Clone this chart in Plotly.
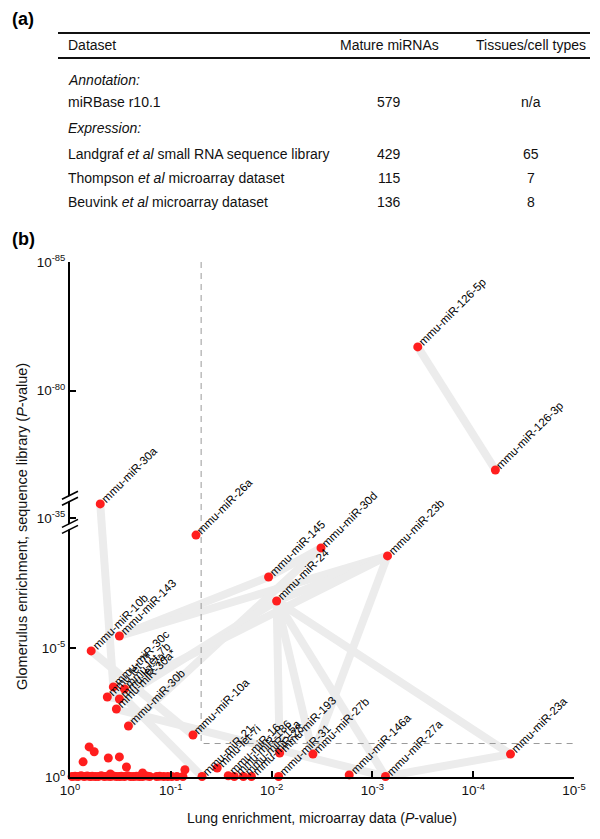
import plotly.graph_objects as go
import numpy as np

W, H = 600, 839
FONT = "Liberation Sans, Arial, Helvetica, sans-serif"

# ---------------- Panel (a): table ----------------
table_header = ["Dataset", "Mature miRNAs", "Tissues/cell types"]
annotation_rows = [["miRBase r10.1", "579", "n/a"]]
expression_rows = [
    ["Landgraf <i>et al</i> small RNA sequence library", "429", "65"],
    ["Thompson <i>et al</i> microarray dataset", "115", "7"],
    ["Beuvink <i>et al</i> microarray dataset", "136", "8"],
]

# ---------------- Panel (b): data (-log10 P) ----------------
mirna_names = [
    "mmu-miR-126-5p", "mmu-miR-126-3p", "mmu-miR-30a", "mmu-miR-26a",
    "mmu-miR-145", "mmu-miR-30d", "mmu-miR-23b", "mmu-miR-24",
    "mmu-miR-10b", "mmu-miR-143", "mmu-miR-30c", "mmu-let-7f",
    "mmu-let-7b", "mmu-let-7a", "mmu-miR-30a*", "mmu-miR-30b",
    "mmu-miR-10a", "mmu-miR-21", "mmu-let-7i", "mmu-miR-16",
    "mmu-miR-186", "mmu-miR-15a", "mmu-miR-28", "mmu-miR-193",
    "mmu-miR-31", "mmu-miR-27b", "mmu-miR-146a", "mmu-miR-27a",
    "mmu-miR-23a",
]
lung_mlog10p = [
    3.45, 4.22, 0.30, 1.25,
    1.97, 2.49, 3.15, 2.05,
    0.21, 0.49, 0.43, 0.37,
    0.54, 0.49, 0.46, 0.58,
    1.22, 1.31, 1.46, 1.57,
    1.63, 1.72, 1.80, 2.08,
    2.07, 2.41, 2.77, 3.13,
    4.37,
]
glom_mlog10p = [
    81.70, 76.92, 35.56, 9.40,
    7.77, 8.90, 8.59, 6.84,
    4.90, 5.48, 3.50, 3.11,
    3.42, 3.03, 2.64, 1.98,
    1.63, 0.02, 0.35, 0.05,
    0.02, 0.02, 0.02, 0.93,
    0.02, 0.89, 0.08, 0.02,
    0.89,
]

# unlabelled miRNAs
other_lung_mlog10p = [
    0.02, 0.05, 0.08, 0.11, 0.14, 0.17, 0.20, 0.22, 0.25, 0.28, 0.31, 0.34,
    0.37, 0.40, 0.43, 0.46, 0.49, 0.51, 0.54, 0.57, 0.60, 0.63, 0.66, 0.69,
    0.72, 0.76, 0.79, 0.86, 0.89, 0.93, 0.97, 1.01, 1.06, 1.12,
    0.19, 0.24, 0.13, 0.38, 0.49, 0.56, 0.40, 0.72, 1.14,
]
other_glom_mlog10p = [
    0.02, 0.03, 0.02, 0.05, 0.02, 0.04, 0.02, 0.03, 0.02, 0.02, 0.05, 0.02,
    0.03, 0.02, 0.04, 0.02, 0.02, 0.03, 0.02, 0.05, 0.02, 0.02, 0.03, 0.02,
    0.02, 0.04, 0.02, 0.02, 0.03, 0.02, 0.02, 0.02, 0.02, 0.02,
    1.17, 0.98, 0.59, 0.74, 0.78, 0.39, 0.12, 0.16, 0.28,
]

# links between related (co-clustered) miRNAs
links = [
    ("mmu-miR-126-5p", "mmu-miR-126-3p"),
    ("mmu-miR-30a", "mmu-miR-30c"),
    ("mmu-miR-143", "mmu-miR-145"),
    ("mmu-miR-143", "mmu-miR-23b"),
    ("mmu-miR-24", "mmu-miR-23a"),
    ("mmu-miR-24", "mmu-miR-27a"),
    ("mmu-miR-24", "mmu-miR-27b"),
    ("mmu-miR-24", "mmu-miR-193"),
    ("mmu-miR-23b", "mmu-miR-27b"),
    ("mmu-miR-23b", "mmu-miR-24"),
    ("mmu-miR-23a", "mmu-miR-27a"),
    ("mmu-miR-30d", "mmu-miR-30b"),
    ("mmu-miR-30d", "mmu-miR-145"),
    ("mmu-let-7a", "mmu-miR-24"),
    ("mmu-let-7f", "mmu-miR-23b"),
    ("mmu-miR-10b", "mmu-miR-10a"),
    ("mmu-miR-30a*", "mmu-miR-27a"),
    ("mmu-miR-30c", "mmu-miR-21"),
    ("mmu-let-7a", "mmu-let-7f"),
    ("mmu-miR-15a", "mmu-miR-16"),
]

alpha = 0.05  # significance threshold (dashed lines)

# y-axis break segments, in -log10 P
y_segments = [(0.0, 9.7), (34.65, 35.74), (75.78, 85.0)]


def ybreak(v):
    off = 0.0
    for lo, hi in y_segments:
        if v <= hi:
            return off + max(v - lo, 0.0)
        off += hi - lo
    return off


y_top = ybreak(y_segments[-1][1])
y_tick_vals = [0, 5, 35, 80, 85]
x_tick_exps = [0, 1, 2, 3, 4, 5]

# plot area in pixels
PX0, PX1, PY0, PY1 = 70, 574, 262, 777


def px(x):
    return x / W


def py(y):
    return 1 - y / H


fig = go.Figure()

# links
pos = {n: (lx, gy) for n, lx, gy in zip(mirna_names, lung_mlog10p, glom_mlog10p)}
lx, ly = [], []
for a, b in links:
    for n in (a, b):
        lx.append(10 ** (-pos[n][0]))
        ly.append(ybreak(pos[n][1]))
    lx.append(None)
    ly.append(None)
fig.add_trace(go.Scatter(x=lx, y=ly, mode="lines",
                         line=dict(color="#ececec", width=8),
                         hoverinfo="skip", showlegend=False))

# threshold dashed lines
fig.add_trace(go.Scatter(x=[alpha, alpha, 10 ** (-5)],
                         y=[y_top, ybreak(-np.log10(alpha)), ybreak(-np.log10(alpha))],
                         mode="lines", line=dict(color="#9a9a9a", width=1, dash="6px,5px"),
                         hoverinfo="skip", showlegend=False))

# points
fig.add_trace(go.Scatter(
    x=[10 ** (-v) for v in other_lung_mlog10p],
    y=[ybreak(v) for v in other_glom_mlog10p],
    mode="markers", marker=dict(color="#ff1e1e", size=9),
    cliponaxis=False, showlegend=False))
fig.add_trace(go.Scatter(
    x=[10 ** (-v) for v in lung_mlog10p],
    y=[ybreak(v) for v in glom_mlog10p],
    mode="markers", marker=dict(color="#ff1e1e", size=9),
    text=mirna_names, cliponaxis=False, showlegend=False))

annotations = []
for n, lv, gv in zip(mirna_names, lung_mlog10p, glom_mlog10p):
    annotations.append(dict(
        x=-lv, y=ybreak(gv), xref="x", yref="y", text=n, showarrow=False,
        textangle=-45, xanchor="left", yanchor="bottom", xshift=-4, yshift=-4,
        font=dict(family=FONT, size=11.5, color="#000")))

# axis titles
annotations.append(dict(x=px((PX0 + PX1) / 2), y=py(818), xref="paper", yref="paper",
                        text="Lung enrichment, microarray data (<i>P</i>-value)",
                        xanchor="center", yanchor="middle",
                        showarrow=False, font=dict(family=FONT, size=14, color="#111")))
annotations.append(dict(x=px(22), y=py(527), xref="paper", yref="paper",
                        text="Glomerulus enrichment, sequence library (<i>P</i>-value)",
                        textangle=-90, showarrow=False, xanchor="center", yanchor="middle",
                        font=dict(family=FONT, size=14.5, color="#111")))

# panel labels
for lab, yy in (("(a)", 19), ("(b)", 239)):
    annotations.append(dict(x=px(10), y=py(yy), xref="paper", yref="paper", text=f"<b>{lab}</b>",
                            showarrow=False, xanchor="left", yanchor="middle",
                            font=dict(family=FONT, size=18, color="#000")))

# table text
col_x = [66, 389, 531]
tfont = dict(family=FONT, size=14, color="#111")


def cell(x, y, t, anchor):
    annotations.append(dict(x=px(x), y=py(y), xref="paper", yref="paper", text=t,
                            showarrow=False, xanchor=anchor, yanchor="middle", font=tfont))


for i, t in enumerate(table_header):
    cell(col_x[i], 45, t, "left" if i == 0 else "center")
cell(col_x[0], 80, "<i>Annotation:</i>", "left")
cell(col_x[0], 128, "<i>Expression:</i>", "left")
for rows, ys in ((annotation_rows, [102]), (expression_rows, [154, 178, 202])):
    for r, yy in zip(rows, ys):
        for i, t in enumerate(r):
            cell(col_x[i], yy, t, "left" if i == 0 else "center")

shapes = [
    dict(type="line", xref="paper", yref="paper", x0=px(58), x1=px(590), y0=py(33), y1=py(33),
         line=dict(color="#111", width=2)),
    dict(type="line", xref="paper", yref="paper", x0=px(58), x1=px(590), y0=py(58), y1=py(58),
         line=dict(color="#111", width=2)),
]

# axis break marks
ppu = (PY1 - PY0) / y_top
for lo, hi in y_segments[:-1]:
    ypx = PY1 - ybreak(hi) * ppu
    shapes.append(dict(type="path", xref="paper", yref="paper", layer="above",
                       path=(f"M {px(62)} {py(ypx + 5.5)} L {px(78)} {py(ypx - 2.5)} "
                             f"L {px(78)} {py(ypx - 7.5)} L {px(62)} {py(ypx + 0.5)} Z"),
                       fillcolor="white", line=dict(width=0)))
    for off in (3, -3):
        shapes.append(dict(type="line", xref="paper", yref="paper", layer="above",
                           x0=px(62), x1=px(78), y0=py(ypx + 3 + off), y1=py(ypx - 5 + off),
                           line=dict(color="#000", width=1.6)))

fig.update_layout(
    template="none",
    width=W, height=H, margin=dict(l=0, r=0, t=0, b=0, autoexpand=False),
    paper_bgcolor="white", plot_bgcolor="white",
    font=dict(family=FONT, color="#111"),
    xaxis=dict(type="log", range=[0, -5], domain=[px(PX0), px(PX1)],
               tickvals=[10 ** (-e) for e in x_tick_exps],
               ticktext=[f"10<sup>{-e if e else 0}</sup>" for e in x_tick_exps],
               showline=True, linecolor="#000", linewidth=2, mirror=False,
               ticks="inside", ticklen=6, tickwidth=2, tickcolor="#000",
               showgrid=False, zeroline=False, tickfont=dict(size=13.5, color="#111"),
               anchor="y", automargin=False),
    yaxis=dict(range=[0, y_top], domain=[py(PY1), py(PY0)],
               tickvals=[ybreak(v) for v in y_tick_vals],
               ticktext=[f"10<sup>{-v if v else 0}</sup>" for v in y_tick_vals],
               showline=True, linecolor="#000", linewidth=2,
               ticks="inside", ticklen=6, tickwidth=2, tickcolor="#000",
               showgrid=False, zeroline=False, tickfont=dict(size=13.5, color="#111"),
               anchor="x", automargin=False),
    annotations=annotations, shapes=shapes,
)

fig.write_html("out.html", config={"displayModeBar": False},
               post_script="document.body.style.margin='0px';document.body.style.overflow='hidden';")
